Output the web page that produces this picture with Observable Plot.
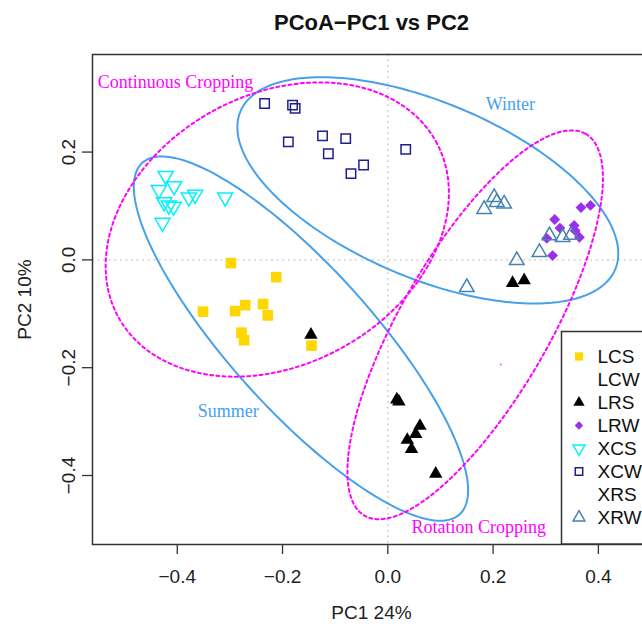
<!DOCTYPE html>
<html><head><meta charset="utf-8">
<script src="https://cdn.jsdelivr.net/npm/d3@7"></script>
<script src="https://cdn.jsdelivr.net/npm/@observablehq/plot@0.6"></script>
<style>
html,body{margin:0;padding:0;background:#fff;overflow:hidden;}
#chart{position:relative;width:642px;height:624px;overflow:hidden;}
#chart svg{max-width:none !important;display:block;}
</style></head><body><div id="chart"></div>
<script>
// ---- data ----
const groups = ["LCS","LCW","LRS","LRW","XCS","XCW","XRS","XRW"];
const LCS_x = [-0.298,-0.212,-0.351,-0.290,-0.271,-0.237,-0.228,-0.278,-0.273,-0.145];
const LCS_y = [-0.006,-0.032,-0.096,-0.095,-0.084,-0.082,-0.103,-0.135,-0.149,-0.159];
const LRS_x = [-0.146,0.237,0.259,0.017,0.021,0.061,0.053,0.037,0.045,0.091];
const LRS_y = [-0.139,-0.043,-0.038,-0.259,-0.263,-0.308,-0.323,-0.334,-0.351,-0.397];
const LRW_x = [0.367,0.385,0.317,0.327,0.354,0.356,0.364,0.302,0.313];
const LRW_y = [0.097,0.101,0.075,0.059,0.064,0.054,0.042,0.040,0.008];
const XCS_x = [-0.422,-0.435,-0.406,-0.378,-0.366,-0.309,-0.425,-0.416,-0.407,-0.428];
const XCS_y = [0.156,0.130,0.137,0.116,0.121,0.116,0.107,0.101,0.099,0.069];
const XCW_x = [-0.234,-0.181,-0.176,-0.189,-0.124,-0.080,-0.113,-0.046,-0.070,0.034];
const XCW_y = [0.290,0.287,0.281,0.219,0.230,0.225,0.197,0.176,0.160,0.205];
const XRW_x = [0.202,0.207,0.221,0.183,0.307,0.332,0.348,0.288,0.245,0.150];
const XRW_y = [0.116,0.107,0.104,0.094,0.045,0.042,0.046,0.014,-0.001,-0.051];
const stray_x = [0.2145];
const stray_y = [-0.194];

// ellipses: centre, semi-axis vector A, semi-axis vector B (data units)
const ellipseNames = ["Summer","Winter","Continuous Cropping","Rotation Cropping"];
const ellipseCx = [-0.165, 0.076, -0.210, 0.166];
const ellipseCy = [-0.146, 0.129, 0.0563, -0.1205];
const ellipseAx = [0.3013, 0.356, 0.3015, 0.2101];
const ellipseAy = [-0.3261, -0.1465, 0.1632, 0.3541];
const ellipseBx = [-0.1002, -0.0648, 0.1241, 0.1215];
const ellipseBy = [-0.0884, -0.1504, -0.2188, -0.0689];
const ellipseKind = ["season","season","cropping","cropping"];

const labelText = ["Continuous Cropping","Winter","Summer","Rotation Cropping"];
const labelX = [-0.551, 0.2326, -0.3033, 0.1727];
const labelY = [0.329, 0.2895, -0.2812, -0.4959];
const labelKind = ["cropping","season","season","cropping"];
const labelAnchor = ["start","middle","middle","middle"];

const xTicks = [-0.4,-0.2,0,0.2,0.4];
const yTicks = [-0.4,-0.2,0,0.2];
const titleText = "PCoA\u2212PC1 vs PC2";
const xLabel = "PC1 24%";
const yLabel = "PC2 10%";

// ---- styles ----
const BLUE = "#47a0ea", MAGENTA = "#ff00ff";
const triDown = {draw(ctx, size){ const y = Math.sqrt(size/(Math.sqrt(3)*3)); const x = Math.sqrt(3)*y;
  ctx.moveTo(0, 2*y); ctx.lineTo(x, -y); ctx.lineTo(-x, -y); ctx.closePath(); }};
const styles = {
  LCS:{xs:LCS_x, ys:LCS_y, symbol:"square", d3s:d3.symbolSquare, fill:"#FFD700", stroke:"none", r:6, lr:4.6},
  LCW:{xs:[], ys:[]},
  LRS:{xs:LRS_x, ys:LRS_y, symbol:"triangle", d3s:d3.symbolTriangle, fill:"#000", stroke:"none", r:5, lr:4.2},
  LRW:{xs:LRW_x, ys:LRW_y, symbol:"diamond2", d3s:d3.symbolDiamond2, fill:"#9a30ec", stroke:"none", r:4.9, lr:3.8},
  XCS:{xs:XCS_x, ys:XCS_y, symbol:triDown, d3s:triDown, fill:"none", stroke:"#00f0ff", r:5.6, lr:4.4},
  XCW:{xs:XCW_x, ys:XCW_y, symbol:"square", d3s:d3.symbolSquare, fill:"none", stroke:"#1f1f8f", r:5.3, lr:4.2},
  XRS:{xs:[], ys:[]},
  XRW:{xs:XRW_x, ys:XRW_y, symbol:"triangle", d3s:d3.symbolTriangle, fill:"none", stroke:"#4682B4", r:5.4, lr:4.4}
};

const ellipsePts = [];
ellipseNames.forEach((n, k) => {
  for (let i = 0; i <= 240; i++) {
    const t = 2*Math.PI*i/240;
    ellipsePts.push({name:n, kind:ellipseKind[k],
      x: ellipseCx[k] + ellipseAx[k]*Math.cos(t) + ellipseBx[k]*Math.sin(t),
      y: ellipseCy[k] + ellipseAy[k]*Math.cos(t) + ellipseBy[k]*Math.sin(t)});
  }
});
const labels = labelText.map((t,i)=>({t, x:labelX[i], y:labelY[i], kind:labelKind[i], anchor:labelAnchor[i]}));
const fmt = d3.format(".1f");
const SANS = "'Liberation Sans', Arial, Helvetica, sans-serif";
const SERIF = "'Liberation Serif', 'Times New Roman', serif";

const dotMarks = groups.filter(g => styles[g].xs.length).map(g => {
  const s = styles[g];
  const pts = s.xs.map((x,i)=>({x, y:s.ys[i]}));
  return Plot.dot(pts, {x:"x", y:"y", symbol:s.symbol, fill:s.fill, stroke:s.stroke, strokeWidth:1.5, r:s.r});
});

const plot = Plot.plot({
  width: 660, height: 624,
  marginLeft: 92, marginRight: 10, marginTop: 54, marginBottom: 80,
  x: {domain: [-0.561, 0.499], axis: null},
  y: {domain: [-0.528, 0.381], axis: null},
  style: {fontFamily: SANS, background: "white", overflow: "visible", maxWidth: "none"},
  marks: [
    Plot.ruleX([0], {stroke:"#bdbdbd", strokeWidth:1.3, strokeDasharray:"1.6,4"}),
    Plot.ruleY([0], {stroke:"#bdbdbd", strokeWidth:1.3, strokeDasharray:"1.6,4"}),
    ...dotMarks,
    Plot.dot(stray_x.map((x,i)=>({x, y:stray_y[i]})), {x:"x", y:"y", r:1, fill:"#ff6a5a"}),
    Plot.line(ellipsePts.filter(d=>d.kind==="season"), {x:"x", y:"y", z:"name", stroke:BLUE, strokeWidth:2}),
    Plot.line(ellipsePts.filter(d=>d.kind==="cropping"), {x:"x", y:"y", z:"name", stroke:MAGENTA, strokeWidth:2, strokeDasharray:"3,3.2"}),
    Plot.text(labels.filter(d=>d.anchor==="start"), {x:"x", y:"y", text:"t", fill:d=>d.kind==="season"?BLUE:MAGENTA, fontFamily:SERIF, fontSize:18, textAnchor:"start"}),
    Plot.text(labels.filter(d=>d.anchor!=="start"), {x:"x", y:"y", text:"t", fill:d=>d.kind==="season"?BLUE:MAGENTA, fontFamily:SERIF, fontSize:18, textAnchor:"middle"}),
    Plot.axisX({ticks: xTicks, tickSize: 10, tickFormat: () => "", label: null, stroke:"#333", strokeWidth:1.3}),
    Plot.axisY({ticks: yTicks, tickSize: 10, tickFormat: () => "", label: null, stroke:"#333", strokeWidth:1.3}),
    Plot.text(xTicks, {x: d=>d, frameAnchor:"bottom", dy: 32, text: d=>fmt(d), fontSize: 19, fill:"#222", textAnchor:"middle", lineAnchor:"middle"}),
    Plot.text(yTicks, {y: d=>d, frameAnchor:"left", dx: -24, rotate: -90, text: d=>fmt(d), fontSize: 19, fill:"#222", textAnchor:"middle", lineAnchor:"middle"}),
    Plot.text([xLabel], {frameAnchor:"bottom", dy: 68, fontSize: 19, fill:"#222", textAnchor:"middle", lineAnchor:"middle"}),
    Plot.text([yLabel], {frameAnchor:"left", dx: -68, rotate: -90, fontSize: 19, fill:"#222", textAnchor:"middle", lineAnchor:"middle"}),
    Plot.text([titleText], {frameAnchor:"top", dy: -32, fontSize: 22, fontWeight:"bold", fill:"#111", textAnchor:"middle", lineAnchor:"middle"}),
    Plot.frame({stroke:"#333", strokeWidth:1.5})
  ]
});

// legend (bottom-right, inside the plot box)
const svgEl = plot.tagName.toLowerCase()==="svg" ? plot : plot.querySelector("svg");
svgEl.style.maxWidth = "none";
const lg = d3.select(svgEl).append("g").attr("text-anchor","start");
lg.append("rect").attr("x",561.5).attr("y",331.5).attr("width",140).attr("height",212.5)
  .attr("fill","white").attr("stroke","#333").attr("stroke-width",1.5);
groups.forEach((g,i) => {
  const s = styles[g], y = 356.5 + i*23;
  if (s.d3s) {
    lg.append("path").attr("d", d3.symbol(s.d3s, Math.PI*s.lr*s.lr)())
      .attr("transform", `translate(579,${y})`)
      .attr("fill", s.fill).attr("stroke", s.stroke).attr("stroke-width", 1.5);
  }
  lg.append("text").attr("x",597.5).attr("y",y).attr("dy","0.35em").attr("text-anchor","start")
    .attr("font-family",SANS).attr("font-size",19).attr("fill","#111").text(g);
});
document.getElementById("chart").appendChild(plot);
</script></body></html>
